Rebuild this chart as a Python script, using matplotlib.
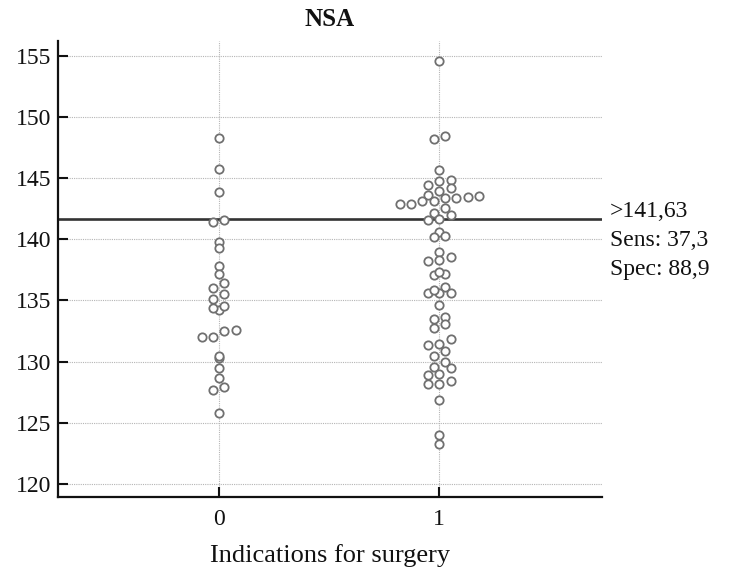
import matplotlib

matplotlib.use("Agg")
import matplotlib.pyplot as plt
import matplotlib.transforms as mtransforms
import numpy as np

# NSA values by indication for surgery (0 = no, 1 = yes)
nsa_no_surgery = [
    148.25, 145.79, 143.89, 141.60, 141.40, 139.77, 139.28, 137.79, 137.19,
    136.46, 136.03, 135.51, 135.08, 134.21, 134.40, 134.54, 132.05, 132.00,
    132.53, 132.62, 130.28, 130.45, 129.50, 128.63, 127.68, 127.90, 125.81,
]
nsa_surgery = [
    154.59, 148.22, 148.44, 145.71, 144.81, 144.48, 144.89, 144.21, 143.66,
    143.93, 143.17, 143.17, 143.39, 143.39, 143.44, 143.52, 142.90, 142.90,
    142.57, 142.16, 141.97, 141.55, 141.70, 140.57, 140.16, 140.30, 138.99,
    138.23, 138.29, 138.59, 137.09, 137.15, 137.36, 136.11, 135.60, 135.65,
    135.65, 135.87, 134.65, 133.48, 133.61, 132.74, 133.07, 131.36, 131.44,
    131.85, 130.49, 130.90, 130.00, 129.59, 129.46, 128.99, 128.94, 128.13,
    128.18, 128.45, 126.82, 124.02, 123.29,
]
groups = [0, 1]
cutoff = 141.63
y_ticks = [120, 125, 130, 135, 140, 145, 150, 155]

SERIF = ["Liberation Serif", "DejaVu Serif"]
plt.rcParams["font.family"] = SERIF
plt.rcParams["text.color"] = "#111111"


def dot_layout(values, center, bin_h=0.775, origin=119.5, step=0.0257):
    """Spread points that share a value bin side by side around center."""
    values = np.asarray(values, dtype=float)
    xs = np.empty_like(values)
    bins = np.floor((values - origin) / bin_h)
    for b in np.unique(bins):
        idx = np.where(bins == b)[0]
        idx = idx[np.argsort(values[idx], kind="stable")]
        n = len(idx)
        xs[idx] = center + (2 * np.arange(n) - (n - 1)) * step
    return xs


def fmt(v):
    return f"{v:.1f}".replace(".", ",")


sens = 100 * np.mean(np.asarray(nsa_surgery) > cutoff)
spec = 100 * np.mean(np.asarray(nsa_no_surgery) <= cutoff)

fig = plt.figure(figsize=(7.35, 5.71), dpi=100)
ax = fig.add_axes([0.0793, 0.1301, 0.7393, 0.7981])
ax.set_xlim(-0.727, 1.736)
ax.set_ylim(118.95, 156.22)

ax.set_axisbelow(True)
ax.grid(True, linestyle=(0, (1, 1)), color="#b5b5b5", linewidth=0.8)

ax.axhline(cutoff, color="#333333", linewidth=1.9, zorder=2)

for g, vals in zip(groups, [nsa_no_surgery, nsa_surgery]):
    ax.scatter(
        dot_layout(vals, g),
        vals,
        s=36,
        facecolor="white",
        edgecolor="#707070",
        linewidth=1.3,
        zorder=3,
    )

ax.set_xticks(groups)
ax.set_yticks(y_ticks)
ax.tick_params(
    axis="both", direction="in", length=7, width=1.5, labelsize=17, colors="#111111"
)
ax.tick_params(axis="x", pad=9)
ax.tick_params(axis="y", pad=5)
for side in ["top", "right"]:
    ax.spines[side].set_visible(False)
for side in ["left", "bottom"]:
    ax.spines[side].set_linewidth(1.6)
    ax.spines[side].set_color("#111111")

# cutoff label block to the right of the axes
trans = mtransforms.blended_transform_factory(ax.transAxes, ax.transData)
labels = [f">{cutoff:.2f}".replace(".", ","), f"Sens: {fmt(sens)}", f"Spec: {fmt(spec)}"]
for i, text in enumerate(labels):
    ax.annotate(
        text,
        xy=(1.0, cutoff),
        xycoords=trans,
        xytext=(8, 2 - 29 * i),
        textcoords="offset pixels",
        fontsize=17,
        va="baseline",
        ha="left",
        annotation_clip=False,
    )

fig.text(0.449, 0.965, "NSA", fontsize=18, fontweight="bold", ha="center", va="center")
fig.text(0.449, 0.016, "Indications for surgery", fontsize=19, ha="center", va="baseline")

fig.savefig("out.png", dpi=100)
